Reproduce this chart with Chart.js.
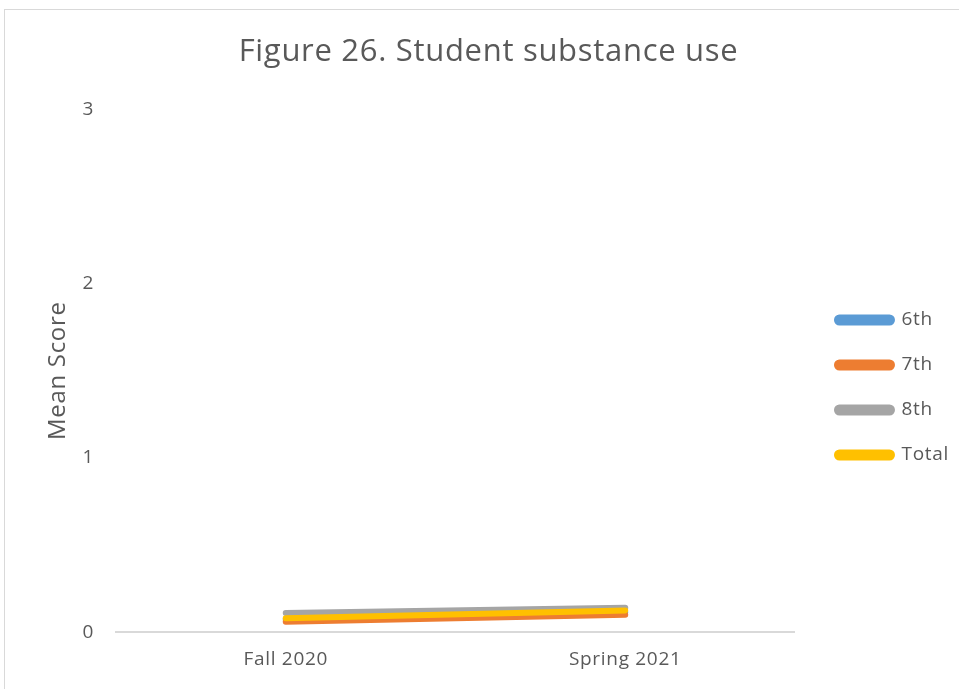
<!DOCTYPE html>
<html>
<head>
<meta charset="utf-8">
<script src="https://cdn.jsdelivr.net/npm/chart.js@4"></script>
<style>
  html, body { margin: 0; padding: 0; background: #fff; overflow: hidden; }
  #wrap { position: relative; width: 959px; height: 689px; }
  #frame { position: absolute; left: 4px; top: 9px; width: 1000px; height: 1000px; border: 1px solid #d9d9d9; box-sizing: border-box; pointer-events: none; }
  canvas { position: absolute; left: 0; top: 0; }
</style>
</head>
<body>
<div id="wrap">
  <canvas id="chart" width="959" height="689"></canvas>
  <div id="frame"></div>
</div>
<script>
// Mean substance-use score per grade, two survey waves
const waves   = ['Fall 2020', 'Spring 2021'];
const grade6  = [0.075, 0.115];
const grade7  = [0.06, 0.10];
const grade8  = [0.11, 0.14];
const total   = [0.08, 0.125];
const yTicks  = [0, 1, 2, 3];

const textColor = '#595959';
const font = '"Open Sans", Lato, sans-serif';

// later series are painted over earlier ones, so Total ends up on top
function series(label, data, color, order) {
  return {
    label: label,
    data: data,
    order: order,
    borderColor: color,
    backgroundColor: color,
    borderWidth: 6,
    borderCapStyle: 'round',
    pointRadius: 0,
    tension: 0
  };
}

// slightly loose letter spacing for all labels
const spacing = {
  id: 'spacing',
  beforeUpdate(chart) { chart.ctx.letterSpacing = '0.7px'; },
  beforeDraw(chart) { chart.ctx.letterSpacing = '0.7px'; }
};

// move the legend block and title a little off their default spots
const boxShift = {
  id: 'boxShift',
  afterLayout(chart) {
    const lg = chart.legend;
    lg.top += 39; lg.bottom += 39;
    lg.left += 16; lg.right += 16;
    const t = chart.titleBlock;
    t.left += 15; t.right += 15;
  }
};

new Chart(document.getElementById('chart'), {
  type: 'line',
  data: {
    labels: waves,
    datasets: [
      series('6th', grade6, '#5b9bd5', 4),
      series('7th', grade7, '#ed7d31', 3),
      series('8th', grade8, '#a5a5a5', 2),
      series('Total', total, '#ffc000', 1)
    ]
  },
  options: {
    responsive: false,
    animation: false,
    layout: { padding: { left: 4, right: 16, top: 10, bottom: 2 } },
    plugins: {
      title: {
        display: true,
        text: 'Figure 26. Student substance use',
        color: textColor,
        font: { family: font, size: 31, weight: 'normal' },
        padding: { top: 24, bottom: 38 }
      },
      legend: {
        position: 'right',
        labels: {
          boxWidth: 55,
          boxHeight: 5,
          useBorderRadius: true,
          borderRadius: 2.5,
          color: textColor,
          font: { family: font, size: 19 },
          padding: 26,
          sort: (a, b) => a.datasetIndex - b.datasetIndex
        }
      },
      tooltip: { enabled: false }
    },
    scales: {
      x: {
        offset: true,
        grid: { display: false, drawTicks: false },
        border: { color: '#d9d9d9', width: 2 },
        ticks: { color: textColor, font: { family: font, size: 19 }, padding: 16 }
      },
      y: {
        min: 0,
        max: 3,
        afterBuildTicks: (scale) => { scale.ticks = yTicks.map(v => ({ value: v })); },
        afterFit: (scale) => { scale.width = 112; },
        grid: { display: false, drawTicks: false },
        border: { display: false },
        ticks: { color: textColor, font: { family: font, size: 19 }, padding: 22 },
        title: {
          display: true,
          text: 'Mean Score',
          color: textColor,
          font: { family: font, size: 24 },
          padding: { top: 40, bottom: 0 }
        }
      }
    }
  },
  plugins: [spacing, boxShift]
});
</script>
</body>
</html>
